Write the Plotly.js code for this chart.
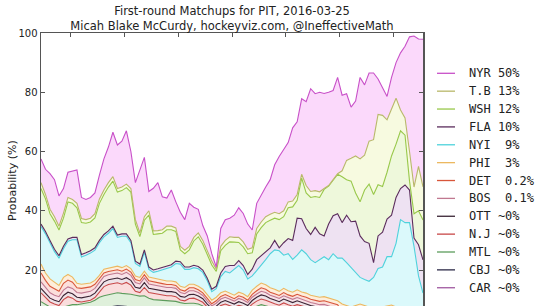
<!DOCTYPE html>
<html>
<head>
<meta charset="utf-8">
<script src="https://cdn.plot.ly/plotly-3.0.1.min.js"></script>
<style>
html,body{margin:0;padding:0;overflow:hidden;background:#fff;}
#chart{width:544px;height:306px;}
</style>
</head>
<body>
<div id="chart"></div>
<script>
// Day index since the start of the season (every second day)
const days = [0,2,4,6,8,10,12,14,16,18,20,22,24,26,28,30,32,34,36,38,40,42,44,46,48,50,52,54,56,58,60,62,64,66,68,70,72,74,76,78,80,82,84,86,88,90,92,94,96,98,100,102,104,106,108,110,112,114,116,118,120,122,124,126,128,130,132,134,136,138,140,142,144,146,148,150,152,154,156,158,160,162,164,166,168,170];

// Cumulative (stacked) probability level at the top of each team's band, in %
const nyrTop = [57.5,54,52.5,50.5,45,47.5,53,53.5,53.8,44.5,
 43.8,44.5,46,52,57.5,61.5,66.5,62.2,63.5,67,
 60,49.5,54,58,46.5,47.6,49.5,44.7,44.3,47,
 43,39.5,37,42.5,41.2,40.5,35,31.5,25.5,21,
 34,37,37.5,38.5,41,39.1,35.5,33.5,42.5,45.5,
 48,50.5,55.5,58.3,60.8,63,68,70,77.8,76.8,
 81.2,79.5,80,79.6,80,80.6,85,79,79.5,75,
 77,85,82.5,86.5,86.5,84.5,81.5,78.6,85,90,
 93.3,95.5,98.7,99,98,97.9];
const tbTop = [49.5,45.5,40.5,38,34.8,39.2,44.5,43.8,42.5,37.4,
 37,37.5,39,44,47,49.5,51.5,47.5,48,49,
 47.5,37,32.5,38,40,33.2,33.3,33.6,34.8,34.8,
 34.2,28,26.7,28,31,32.5,30,26.5,23,20.3,
 28,30,31.2,31,31,29.5,27,27.5,34,36.2,
 38,38.8,39.5,39,40,43,43.3,45.5,52.3,48.5,
 46.5,46.8,46.4,47.5,48.5,50.5,52.5,53.5,57,57.7,
 58.5,57.5,58.8,63.5,64,72.5,72.2,70.7,74.5,78,
 74,71.3,60,48,55,48.1];
const wshTop = [47.5,44,39,36.5,33.5,37.5,43,42.5,41,36,
 35.8,36.2,37.6,42.5,45.5,48,50,46.3,46.8,47.8,
 46.3,35.5,31.3,36.8,38.5,32,32.2,32.4,33.6,33.6,
 33,26.8,25.5,26.8,29.8,31.2,28.7,25.2,21.7,19.5,
 26.5,28.3,29.5,29.4,29.3,27.8,25.5,25.8,32.2,34.3,
 36,36.8,37.5,37,38,41,41.3,43.5,51,46,
 44.5,44.8,44.5,47.2,48.3,50.3,52.3,51.5,50.5,50,
 46,43,47,49,45.5,48.8,48.2,53,58.5,62.5,
 67,65.5,50,39,40,36.9];
const flaTop = [35.5,33,30,27,24.8,28,30.5,31,31,25.2,
 25.8,26.5,27.5,30,32,33.2,34.8,31.8,32.2,32.2,
 30,23,22,26.8,21,20,20.4,20.8,21.2,21.8,
 23,22.8,21,21,21.6,21.2,20,17.2,13.5,14.5,
 19,21.2,21.5,21.5,23.2,21.5,18.5,20.3,23.5,24.8,
 26.2,27.5,30,27.5,29.2,30.6,30,37.5,37.3,34,
 32,34.4,32.2,31.5,35.5,38.3,39,36,38.5,36.3,
 36.5,31.5,29.6,29,22.5,31.5,32.8,37.2,38.5,44.5,
 47.5,48.7,47,30.8,28.5,23.4];
const nyiTop = [34.7,32.2,29.2,26.2,24,27.2,29.7,30.2,30.2,24.4,
 25,25.7,26.7,29.2,31.2,32.4,34,31,31.4,31.4,
 29.2,22.2,21.2,26,20.2,19.2,19.6,20,20.4,21,
 22.2,22,20.2,20.2,20.8,20.4,19.2,16.4,12.7,13.7,
 17.8,19.5,19,20.2,21.5,20,17,18,19.8,21.5,
 23.5,25.5,26.8,26.5,25,25.5,23.6,25,26.8,25.5,
 23.5,22.5,23.5,24.5,23.5,25.5,24,24,22.5,20.8,
 19,17.5,16.8,16.2,17.5,20.5,21,24.5,24.5,29,
 37,36,36,28,18,12.2];
const phiTop = [22,19,17,15.8,14.8,17.5,18.5,17.6,15.5,15.2,
 15.3,15.6,16.5,18.2,20.3,20.7,21,21.3,20.8,21.5,
 20.5,18,17.5,19.6,17.6,17.2,16.9,16.6,16.3,16.3,
 16,14.5,14.1,15.2,15.2,14.5,13.5,11.5,9.8,10.8,
 12.3,12.9,12.3,11.5,12.5,12,11,13.2,14.5,15.6,
 15,14,13.5,12.8,13.8,13,12.5,13.3,12.6,12.2,
 11.5,11.2,10.8,11,10.5,10,9.6,8.5,8,7.5,
 8,8.5,8,7.5,7,7.2,7.5,8,8.2,7.5,
 6.5,5.5,5,4.5,4,3.4];
const detTop = [19,16.5,14.5,13.5,12.8,15.5,16.6,15.9,14,13.8,
 14,14.3,15.2,17,19,19.5,19.8,20.1,19.6,20.3,
 19.3,16.8,16.3,18.4,16.4,16,15.7,15.4,15.1,15.1,
 14.8,13.3,12.9,14,14,13.3,12.3,10.3,8.6,9.6,
 11.1,11.7,11.1,10.3,11.3,10.8,9.8,11.8,13,14,
 13.5,12.5,12,11.4,12.4,11.6,11.1,11.8,11.2,10.8,
 10.1,9.8,9.4,9.6,9.1,8.7,8.3,6,5.5,5,
 5.3,5.5,5,4.5,4,3.8,3.6,3.4,3,2.5,
 2,1.5,1,0.7,0.5,0.3];
const bosTop = [16,14,12.3,11.5,11,13.2,14.3,13.8,12.4,12.2,
 12.4,12.8,13.8,15.7,17.8,18.4,18.7,19,18.5,19.2,
 18.2,15.8,15.3,17.3,15.3,15,14.7,14.4,14.1,14.1,
 13.8,12.4,12,13,13,12.4,11.4,9.5,7.9,8.8,
 10.2,10.8,10.2,9.5,10.4,9.9,9,10.8,11.9,12.8,
 12.4,11.5,11,10.4,11.3,10.6,10.1,10.7,10.1,9.7,
 9,8.7,8.3,8.4,7.9,7.4,6.8,5.2,4.7,4.3,
 4.5,4.7,4.3,3.9,3.5,3.3,3.1,2.9,2.6,2.2,
 1.8,1.3,0.9,0.6,0.35,0.1];
const ottTop = [13.8,12,10.5,9.8,9.3,11.4,12.5,12,10.8,10.6,
 10.8,11.2,12.2,14,16,16.7,17,17.3,16.8,17.4,
 16.5,14.2,13.8,15.7,13.8,13.5,13.2,13,12.7,12.7,
 12.4,11.1,10.8,11.7,11.8,11.2,10.3,8.5,7,7.8,
 9.1,9.7,9.1,8.5,9.3,8.8,8,9.7,10.8,11.6,
 11.2,10.4,9.9,9.3,10.2,9.5,9,9.6,9,8.6,
 8,7.7,7.3,7.3,6.8,6.3,5.8,4.4,4,3.6,
 3.8,4,3.6,3.2,2.9,2.7,2.5,2.3,2,1.7,
 1.3,0.9,0.6,0.35,0.15,0.05];
const njTop = [12.3,10.6,9.2,8.5,8,10,11,10.5,9.4,9.2,
 9.4,9.8,10.7,12.5,14.4,15.1,15.4,15.7,15.2,15.8,
 14.9,12.8,12.4,14.1,12.4,12.1,11.8,11.6,11.3,11.3,
 11,9.9,9.6,10.4,10.5,9.9,9.1,7.5,6.1,6.8,
 8,8.5,8,7.4,8.1,7.7,7,8.5,9.5,10.2,
 9.8,9.1,8.6,8.1,8.9,8.3,7.8,8.3,7.8,7.4,
 6.9,6.6,6.2,6.2,5.8,5.3,4.9,3.7,3.3,3,
 3.1,3.3,3,2.6,2.4,2.2,2,1.8,1.6,1.3,
 1,0.7,0.45,0.25,0.1,0.03];
const mtlTop = [9.3,8.4,7.5,7,6.8,7.5,8,8.3,8.3,8.5,
 8.8,9.1,9.8,10.8,11.3,11.6,12,12.3,12.1,12,
 11.8,11.5,11.2,11.3,10.5,10,9.9,9.7,9.6,9.5,
 9.4,9,8.7,8.8,8.8,8.5,7.9,6.5,5.3,5.8,
 6.7,7.2,6.8,6.3,6.8,6.5,6,7,7.8,8.3,
 8,7.5,7.1,6.8,7.3,6.9,6.5,6.8,6.4,6.1,
 5.7,5.4,5.1,5.1,4.8,4.4,4,3,2.7,2.4,
 2.5,2.6,2.4,2.1,1.9,1.7,1.6,1.4,1.2,1,
 0.8,0.5,0.3,0.15,0.05,0.02];
const cbjTop = [6,5.5,5,4.7,4.5,5,5.3,5.5,5.5,5.6,
 5.8,6,6.4,7,7.3,7.5,7.7,7.9,7.8,7.7,
 7.6,7.4,7.2,7.3,6.8,6.5,6.4,6.3,6.2,6.1,
 6,5.8,5.6,5.7,5.7,5.5,5.1,4.2,3.4,3.7,
 4.3,4.6,4.4,4.1,4.4,4.2,3.9,4.5,5,5.3,
 5.1,4.8,4.5,4.3,4.6,4.4,4.1,4.3,4.1,3.9,
 3.6,3.4,3.2,3.2,3,2.8,2.5,1.9,1.7,1.5,
 1.6,1.6,1.5,1.3,1.2,1.1,1,0.9,0.75,0.6,
 0.5,0.3,0.2,0.1,0.03,0.01];
const carTop = [3,2.8,2.5,2.4,2.3,2.5,2.7,2.8,2.8,2.8,
 2.9,3,3.2,3.5,3.7,3.8,3.9,4,3.9,3.9,
 3.8,3.7,3.6,3.7,3.4,3.3,3.2,3.2,3.1,3.1,
 3,2.9,2.8,2.9,2.9,2.8,2.6,2.1,1.7,1.9,
 2.2,2.3,2.2,2.1,2.2,2.1,2,2.3,2.5,2.7,
 2.6,2.4,2.3,2.2,2.3,2.2,2.1,2.2,2.1,2,
 1.8,1.7,1.6,1.6,1.5,1.4,1.3,1,0.9,0.8,
 0.8,0.8,0.75,0.7,0.6,0.55,0.5,0.45,0.4,0.3,
 0.25,0.15,0.1,0.05,0.02,0.01];

// Legend order (top to bottom) and final-probability labels
const teams = ['NYR','T.B','WSH','FLA','NYI','PHI','DET','BOS','OTT','N.J','MTL','CBJ','CAR'];
const finalLabels = ['50%','13%','12%','10%','\u00a09%','\u00a03%','\u00a00.2%','\u00a00.1%','~0%','~0%','~0%','~0%','~0%'];
const yTicks = [20,40,60,80,100];
const titleLine1 = 'First-round Matchups for PIT, 2016-03-25';
const titleLine2 = 'Micah Blake McCurdy, hockeyviz.com, @IneffectiveMath';
const yTitle = 'Probability (%)';

// styling
const lineColors = {
  'NYR':'#c850c8','T.B':'#b9b86a','WSH':'#98c84a','FLA':'#5a2c5c','NYI':'#4ed2dc',
  'PHI':'#ecb860','DET':'#d8563a','BOS':'#c07890','OTT':'#3a2434','N.J':'#c84848',
  'MTL':'#5c9c5c','CBJ':'#2c2a48','CAR':'#a058a0'
};
const fillColors = {
  'NYR':'#fbd9fb','T.B':'#f7fae0','WSH':'#eef8db','FLA':'#eee2f2','NYI':'#dbf9fb',
  'PHI':'#fdeedb','DET':'#fbdfdb','BOS':'#f8e2e8','OTT':'#eee3e8','N.J':'#fadddd',
  'MTL':'#dff0db','CBJ':'#e3e2ec','CAR':'#f1e1f1'
};
const tops = {'NYR':nyrTop,'T.B':tbTop,'WSH':wshTop,'FLA':flaTop,'NYI':nyiTop,'PHI':phiTop,
  'DET':detTop,'BOS':bosTop,'OTT':ottTop,'N.J':njTop,'MTL':mtlTop,'CBJ':cbjTop,'CAR':carTop};

const stackOrder = teams.slice().reverse(); // bottom band first
const traces = stackOrder.map((t, i) => ({
  type:'scatter', mode:'lines', x:days, y:tops[t], name:t,
  line:{color:lineColors[t], width:1.1},
  fill: i === 0 ? 'tozeroy' : 'tonexty',
  fillcolor: fillColors[t],
  showlegend:false, hoverinfo:'skip'
}));

// The original figure is cropped at the bottom: the visible window ends near 7.85 %.
const W = 544, H = 306, L = 41, R = 423, T = 33;
const yVisibleMin = 7.85;
const px2x = p => (p - L) / (R - L);
const px2y = p => (H - p) / (H - T);

const shapes = [], annotations = [];
teams.forEach((t, i) => {
  const yc = 73.3 + i * 17.87;
  shapes.push({type:'line', xref:'paper', yref:'paper',
    x0:px2x(437), x1:px2x(455), y0:px2y(yc), y1:px2y(yc),
    line:{color:lineColors[t], width:1.3}});
  annotations.push({xref:'paper', yref:'paper', x:px2x(467), y:px2y(yc),
    xanchor:'left', yanchor:'middle', showarrow:false,
    text: t + '\u00a0' + finalLabels[i],
    font:{family:'DejaVu Sans Mono, monospace', size:12, color:'#222'}});
});
// y-axis title, placed like the original (centre x ~12 px, centre of the full axis)
annotations.push({xref:'paper', yref:'paper', x:px2x(12), y:px2y(181), textangle:-90,
  xanchor:'center', yanchor:'middle', showarrow:false, text:yTitle,
  font:{family:'DejaVu Sans, sans-serif', size:11, color:'#222'}});

const layout = {
  width:W, height:H,
  margin:{l:L, r:W - R, t:T, b:0},
  paper_bgcolor:'#fff', plot_bgcolor:'#fff',
  font:{family:'DejaVu Sans, sans-serif', color:'#222'},
  title:{text:titleLine1 + '<br>' + titleLine2, xref:'paper', x:0.5, xanchor:'center',
    yref:'container', y:1 - 15/H, yanchor:'top',
    font:{family:'DejaVu Sans, sans-serif', size:11.5, color:'#222'}},
  xaxis:{range:[0,170], side:'top', showgrid:false, zeroline:false, showline:true, linecolor:'#555', linewidth:1.5,
    mirror:false, ticks:'inside', ticklen:4, tickcolor:'#555',
    tickvals:[13,37,61,85,109,133,157], showticklabels:false},
  yaxis:{range:[yVisibleMin,100], showgrid:false, zeroline:false, showline:true, linecolor:'#555', linewidth:1.5,
    mirror:'ticks', ticks:'inside', ticklen:4, tickcolor:'#555',
    tickvals:yTicks, ticktext:yTicks.map(String),
    tickfont:{family:'DejaVu Sans, sans-serif', size:10, color:'#222'}},
  shapes:shapes, annotations:annotations, showlegend:false
};

Plotly.newPlot('chart', traces, layout, {staticPlot:true, displayModeBar:false});
</script>
</body>
</html>
